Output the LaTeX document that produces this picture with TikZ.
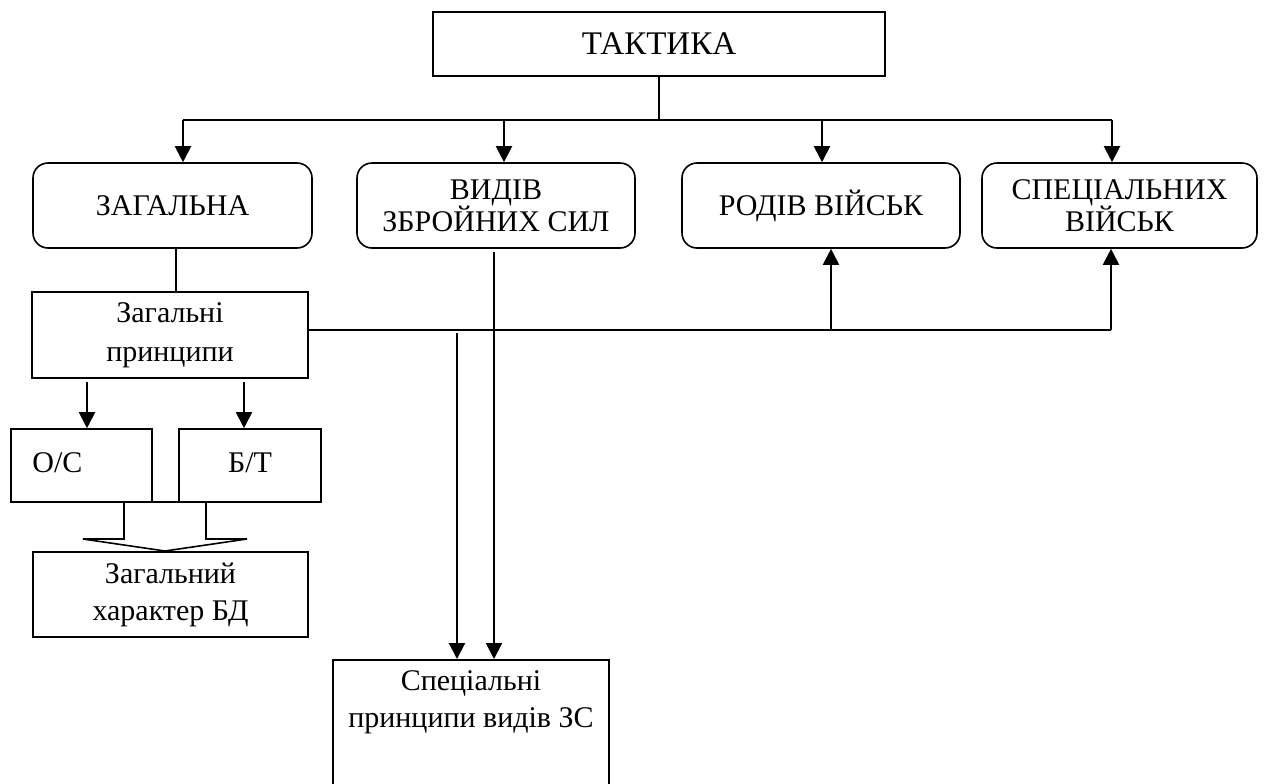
\documentclass[tikz,border=0pt]{standalone}
\usepackage{fontspec}
\setmainfont{Liberation Serif}
\usetikzlibrary{arrows.meta}
\begin{document}
\begin{tikzpicture}[x=0.5pt,y=-0.5pt,
  box/.style={draw, line width=0.8pt, inner sep=0pt, align=center,
    font=\fontsize{15}{18.5}\selectfont},
  rbox/.style={box, rounded corners=7.5pt, minimum height=42.5pt,
    font=\fontsize{15}{16}\selectfont},
  conn/.style={line width=0.65pt},
  arr/.style={line width=1pt, -{Triangle[length=8pt,width=8pt]}}]
\useasboundingbox (0,0) rectangle (1269,783);

% nodes
\node[box, minimum width=226pt, minimum height=32pt,
  font=\fontsize{16.5}{18}\selectfont] (tak) at (659,44) {ТАКТИКА};
\node[rbox, minimum width=139.5pt] (zag) at (172.5,205.5) {ЗАГАЛЬНА};
\node[rbox, minimum width=139pt] (vid) at (496,205.5) {ВИДІВ\\ЗБРОЙНИХ СИЛ};
\node[rbox, minimum width=139pt] (rod) at (821,205.5) {РОДІВ ВІЙСЬК};
\node[rbox, minimum width=137.5pt] (spec) at (1119.5,205.5) {СПЕЦІАЛЬНИХ\\ВІЙСЬК};
\node[box, minimum width=138pt, minimum height=43pt,
  font=\fontsize{15}{19.5}\selectfont] (zp) at (170,335) {Загальні\\принципи};
\node[box, minimum width=70.5pt, minimum height=36.5pt, text width=49pt,
  inner xsep=10.75pt, align=left] (os) at (81.5,465.5) {\raisebox{2.5pt}{О/С}};
\node[box, minimum width=71pt, minimum height=36.5pt] (bt) at (250,465.5) {\raisebox{2.5pt}{Б/Т}};
\node[box, minimum width=137.5pt, minimum height=42.5pt] (zh) at (170.5,594.5) {Загальний\\характер БД};
\node[box, anchor=north, minimum width=138pt, inner ysep=5.5pt, text depth=40pt]
  (sp) at (471,659) {Спеціальні\\принципи видів ЗС};

% top distribution
\coordinate (hub) at (659,120);
\coordinate (bL) at (183,120);
\coordinate (b2) at (504,120);
\coordinate (b3) at (822,120);
\coordinate (bR) at (1112,120);
\draw[conn] (tak.south) -- (hub);
\draw[conn] (bL) -- (bR);
\draw[arr] (bL) -- (bL |- zag.north);
\draw[arr] (b2) -- (b2 |- vid.north);
\draw[arr] (b3) -- (b3 |- rod.north);
\draw[arr] (bR) -- (bR |- spec.north);

% ЗАГАЛЬНА -> Загальні принципи
\coordinate (c1) at (176,248);
\draw[conn] (c1) -- (c1 |- zp.north);

% Загальні принципи -> right
\coordinate (hR) at (1111,330);
\coordinate (h2) at (831,330);
\draw[line width=0.8pt] (zp.east |- hR) -- (hR);
\draw[arr] (hR) -- (hR |- spec.south);
\draw[arr] (h2) -- (h2 |- rod.south);

% down to special principles
\coordinate (h3) at (457,333);
\coordinate (v1) at (494,252);
\draw[arr] (h3) -- (h3 |- sp.north);
\draw[arr] (v1) -- (v1 |- sp.north);

% Загальні принципи -> О/С, Б/Т
\coordinate (d1) at (87,382);
\coordinate (d2) at (244,382);
\draw[arr] (d1) -- (d1 |- os.north);
\draw[arr] (d2) -- (d2 |- bt.north);

% block arrow
\draw[line width=0.8pt] (124,502) -- (124,539) -- (83,539) -- (165,551)
  -- (247,539) -- (206,539) -- (206,502) -- cycle;
\end{tikzpicture}
\end{document}
